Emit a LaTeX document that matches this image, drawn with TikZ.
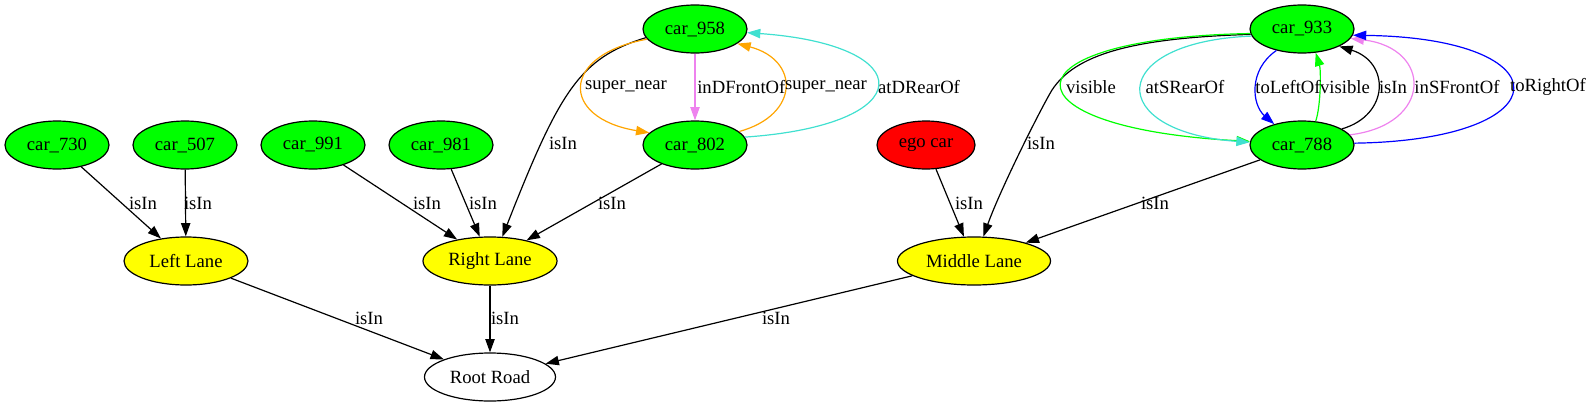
\documentclass[tikz,border=0pt]{standalone}
\usepackage{fontspec}
\setmainfont{Liberation Serif}
\usetikzlibrary{shapes.geometric,arrows.meta}
\definecolor{gvgreen}{HTML}{00FF00}
\definecolor{gvred}{HTML}{FF0000}
\definecolor{gvyellow}{HTML}{FFFF00}
\definecolor{gvorange}{HTML}{FFA500}
\definecolor{gvviolet}{HTML}{EE82EE}
\definecolor{gvturq}{HTML}{40E0D0}
\definecolor{gvblue}{HTML}{0000FF}
\begin{document}
\begin{tikzpicture}[x=0.75pt,y=-0.75pt,
  every node/.style={font=\fontsize{14}{16}\selectfont},
  nd/.style={ellipse,draw=black,line width=0.9pt,inner sep=0pt,minimum height=36pt},
  car/.style={nd,fill=gvgreen,minimum width=78pt},
  lane/.style={nd,fill=gvyellow},
  lbl/.style={inner sep=0pt},
  edge/.style={line width=0.9pt,-{Triangle[length=10pt,width=7pt]}}
]
\useasboundingbox (0,0) rectangle (1591,407);
% nodes
\node[car] (c958) at (695,29) {car\_958};
\node[car] (c802) at (695,145) {car\_802};
\node[car] (c933) at (1302,29) {car\_933};
\node[car] (c788) at (1302,145) {car\_788};
\node[car] (c730) at (57,145) {car\_730};
\node[car] (c507) at (185,145) {car\_507};
\node[car] (c991) at (313,145) {car\_991};
\node[car] (c981) at (441,145) {car\_981};
\node[nd,fill=gvred,minimum width=73.5pt] (ego) at (926,145) {ego car};
\node[lane,minimum width=93pt] (left) at (186,261) {Left Lane};
\node[lane,minimum width=100.5pt] (right) at (490,261) {Right Lane};
\node[lane,minimum width=114.75pt] (middle) at (974,261) {Middle Lane};
\node[nd,fill=white,minimum width=98.25pt] (root) at (490,377) {Root Road};
\coordinate (bend) at (1052,90);
% edges, left part
\draw[edge] (c730) -- (left);
\draw[edge] (c507) -- (left);
\draw[edge] (c991) -- (right);
\draw[edge] (c981) -- (right);
\draw[edge] (c958.190) .. controls (580,58) and (560,90) .. (right.63);
\draw[edge] (c802) -- (right);
\draw[edge,gvorange] (c958.192) .. controls (560,55) and (560,118) .. (c802.165);
\draw[edge,gvviolet] (c958) -- (c802);
\draw[edge,gvorange] (c802.17) .. controls (800,115) and (800,60) .. (c958.341);
\draw[edge,gvturq] (c802.9) .. controls (921,125) and (921,45) .. (c958.356);
% edges, right part
\draw[edge] (c933.186.6) .. controls (1130,38) and (1075,55) .. (bend)
   .. controls (1040,110) and (1000,190) .. (middle.69.4);
\draw[edge,gvgreen] (c933.185.5) .. controls (999,38) and (999,128) .. (c788.176.6);
\draw[edge,gvturq] (c933.188.7) .. controls (1105,42) and (1105,132) .. (c788.177.8);
\draw[edge,gvblue] (c933.220) .. controls (1248,70) and (1252,105) .. (c788.143.5);
\draw[edge,gvgreen] (c788.60.5) .. controls (1321,105) and (1321,70) .. (c933.300.3);
\draw[edge] (c788.22.5) .. controls (1390,115) and (1390,62) .. (c933.335.8);
\draw[edge,gvviolet] (c788.12.3) .. controls (1433,125) and (1433,48) .. (c933.349.8);
\draw[edge,gvblue] (c788.2.2) .. controls (1565,140) and (1565,38) .. (c933.353.4);
\draw[edge] (c788) -- (middle);
\draw[edge] (ego) -- (middle);
% bottom edges
\draw[edge] (left) -- (root);
\draw[edge] (right) -- (root);
\draw[edge] (middle) -- (root);
% labels
\node[lbl] (t1) at (143,203) {isIn};
\node[lbl] (t2) at (198,203) {isIn};
\node[lbl] (t3) at (427,203) {isIn};
\node[lbl] (t4) at (483,203) {isIn};
\node[lbl] (t5) at (563,143) {isIn};
\node[lbl] (t6) at (612,203) {isIn};
\node[lbl] (t7) at (626,87) {super\_near};
\node[lbl,anchor=west] (t8) at (697,87) {inDFrontOf};
\node[lbl] (t9) at (826,87) {super\_near};
\node[lbl] (t10) at (919,87) {atDRearOf};
\node[lbl] (t11) at (1041,143) {isIn};
\node[lbl] (t12) at (1091,87) {visible};
\node[lbl] (t13) at (1185,87) {atSRearOf};
\node[lbl] (t14) at (1288,87) {toLeftOf};
\node[lbl] (t15) at (1345,87) {visible};
\node[lbl] (t16) at (1393,87) {isIn};
\node[lbl] (t17) at (1457,87) {inSFrontOf};
\node[lbl] (t18) at (1548,87) {toRightOf};
\node[lbl] (t19) at (1155,203) {isIn};
\node[lbl] (t20) at (969,203) {isIn};
\node[lbl] (t21) at (369,318) {isIn};
\node[lbl] (t22) at (505,318) {isIn};
\node[lbl] (t23) at (776,318) {isIn};
\end{tikzpicture}
\end{document}
